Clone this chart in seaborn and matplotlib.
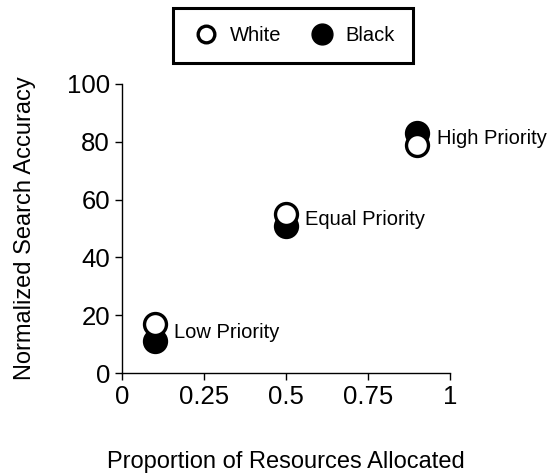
import numpy as np
import pandas as pd
import matplotlib
matplotlib.use("Agg")
import matplotlib.pyplot as plt
import seaborn as sns
from matplotlib.lines import Line2D

# values
proportion = [0.1, 0.5, 0.9]
priority = ["Low Priority", "Equal Priority", "High Priority"]
white_acc = [17, 55, 79]
black_acc = [11, 51, 83]

data = pd.DataFrame({
    "Proportion": proportion * 2,
    "Accuracy": white_acc + black_acc,
    "Group": ["White"] * 3 + ["Black"] * 3,
})

sns.set_style("ticks")
plt.rcParams["font.family"] = ["Liberation Sans", "DejaVu Sans"]
plt.rcParams["text.color"] = "black"
plt.rcParams["axes.labelcolor"] = "black"

fig = plt.figure(figsize=(5.49, 4.76), dpi=100)
ax = fig.add_axes([0.222, 0.216, 0.598, 0.608])

sns.scatterplot(data=data[data.Group == "Black"], x="Proportion", y="Accuracy",
                color="black", edgecolor="black", s=250, linewidth=2.4, ax=ax,
                zorder=3, legend=False)
sns.scatterplot(data=data[data.Group == "White"], x="Proportion", y="Accuracy",
                color="white", edgecolor="black", s=250, linewidth=2.4, ax=ax,
                zorder=4, legend=False)

# priority labels next to each pair
for x, w, b, name in zip(proportion, white_acc, black_acc, priority):
    ax.annotate(name, xy=(x, (w + b) / 2), xytext=(14, 0), textcoords="offset points",
                va="center", ha="left", fontsize=14.5)

ax.set_xlim(0, 1)
ax.set_ylim(0, 100)
ax.set_xticks([0, 0.25, 0.5, 0.75, 1])
ax.set_xticklabels(["0", "0.25", "0.5", "0.75", "1"])
ax.set_yticks([0, 20, 40, 60, 80, 100])
ax.tick_params(labelsize=18.5, length=5, width=1, colors="black")
ax.set_xlabel("Proportion of Resources Allocated", fontsize=17, labelpad=30)
ax.set_ylabel("Normalized Search Accuracy", fontsize=17, labelpad=22)
sns.despine(ax=ax)
for sp in ["left", "bottom"]:
    ax.spines[sp].set_color("black")
    ax.spines[sp].set_linewidth(1)

handles = [
    Line2D([], [], marker="o", linestyle="", markerfacecolor="white",
           markeredgecolor="black", markeredgewidth=2.4, markersize=12, label="White"),
    Line2D([], [], marker="o", linestyle="", markerfacecolor="black",
           markeredgecolor="black", markersize=15, label="Black"),
]
leg = fig.legend(handles=handles, loc="center", bbox_to_anchor=(0.534, 0.925), ncol=2,
                 frameon=True, fancybox=False, edgecolor="black", framealpha=1,
                 fontsize=14.5, handletextpad=0.4, handlelength=1.5,
                 columnspacing=1.3, borderpad=0.9)
leg.get_frame().set_linewidth(2.2)

fig.savefig("out.png", dpi=100)
